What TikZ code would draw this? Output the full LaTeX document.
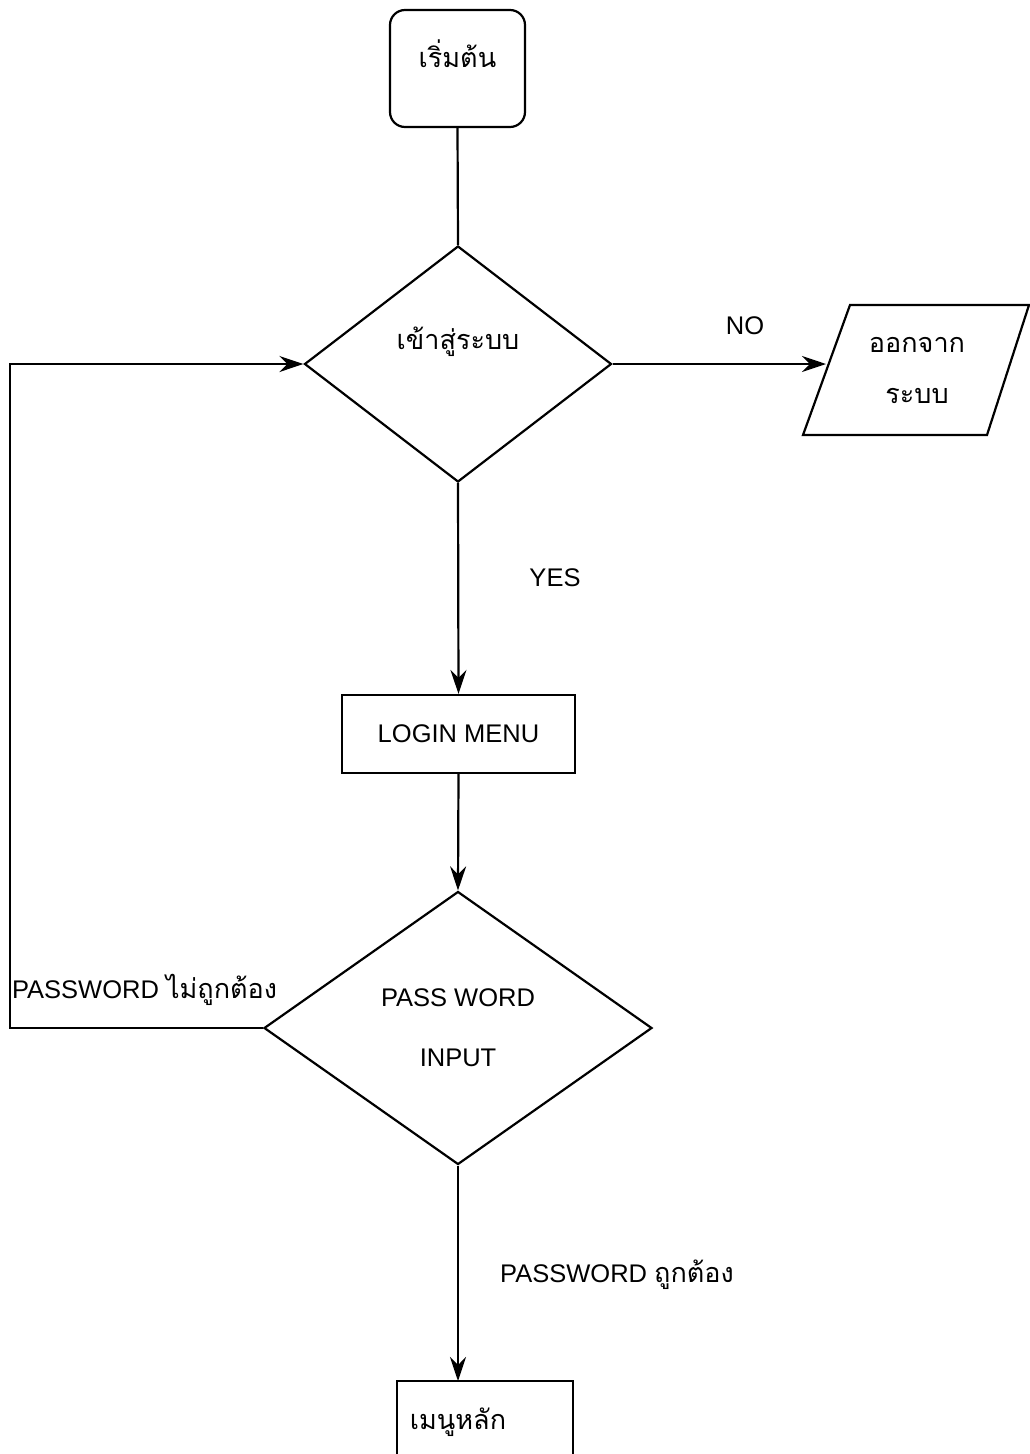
\documentclass[tikz,border=0pt]{standalone}
\usepackage{fontspec}
\setmainfont{Liberation Sans}
\newfontfamily\thai[Script=Thai]{Loma}
\usetikzlibrary{shapes.geometric,arrows.meta}
\begin{document}
\begin{tikzpicture}[x=1pt,y=-1pt,
  line width=2.2pt,
  font=\fontsize{25.5}{30}\selectfont,
  th/.style={font=\thai\fontsize{27}{31}\selectfont},
  flow/.style={-{Stealth[length=24pt,width=16pt,inset=8pt]}},
  box/.style={draw,rectangle,inner sep=0pt},
  decide/.style={draw,diamond,inner sep=0pt},
  lbl/.style={inner sep=0pt}]
\useasboundingbox (0,0) rectangle (1030,1454);
\clip (0,0) rectangle (1030,1454);

% start terminal
\node[box,rounded corners=15pt,minimum width=135pt,minimum height=117pt,
      label={[th,yshift=15pt]center:เริ่มต้น}] (start) at (457.5,68.5) {};

% first decision
\node[decide,minimum width=307pt,minimum height=236pt,
      label={[th,yshift=22pt]center:เข้าสู่ระบบ}] (login) at (458,364) {};

% exit parallelogram
\draw (850,305) -- (1029,305) -- (987,435) -- (803,435) -- cycle;
\node[lbl,th,align=center] (exit) at (917,370) {ออกจาก\\[20pt]ระบบ};
\coordinate (exitin) at (826,364);

% login menu
\node[box,minimum width=233pt,minimum height=78pt] (menu) at (458.5,734) {LOGIN MENU};

% password decision
\node[decide,minimum width=388pt,minimum height=273pt,align=center,
      font=\fontsize{25.5}{60}\selectfont] (pw) at (458,1028) {PASS WORD\\INPUT};

% main menu box (continues past the lower edge)
\draw (397,1381) rectangle (573,1490);
\node[lbl,th] (main) at (458,1422) {เมนูหลัก};
\coordinate (maintop) at (458,1381);

% connectors
\draw (start.south) -- (login.north);
\draw[flow] (login.east) -- (exitin);
\draw[flow] (login.south) -- (menu.north);
\draw[flow] (menu.south) -- (pw.north);
\draw[flow] (pw.west) -- (10,1028) -- (10,364) -- (login.west);
\draw[flow] (pw.south) -- (maintop);

% connector labels
\node[lbl] (no) at (745,326) {NO};
\node[lbl] (yes) at (555,578) {YES};
\node[lbl,anchor=west] (bad) at (11,990) {PASSWORD {\thai\fontsize{27}{31}\selectfont ไม่ถูกต้อง}};
\node[lbl] (ok) at (617,1275) {PASSWORD {\thai\fontsize{27}{31}\selectfont ถูกต้อง}};
\end{tikzpicture}
\end{document}
